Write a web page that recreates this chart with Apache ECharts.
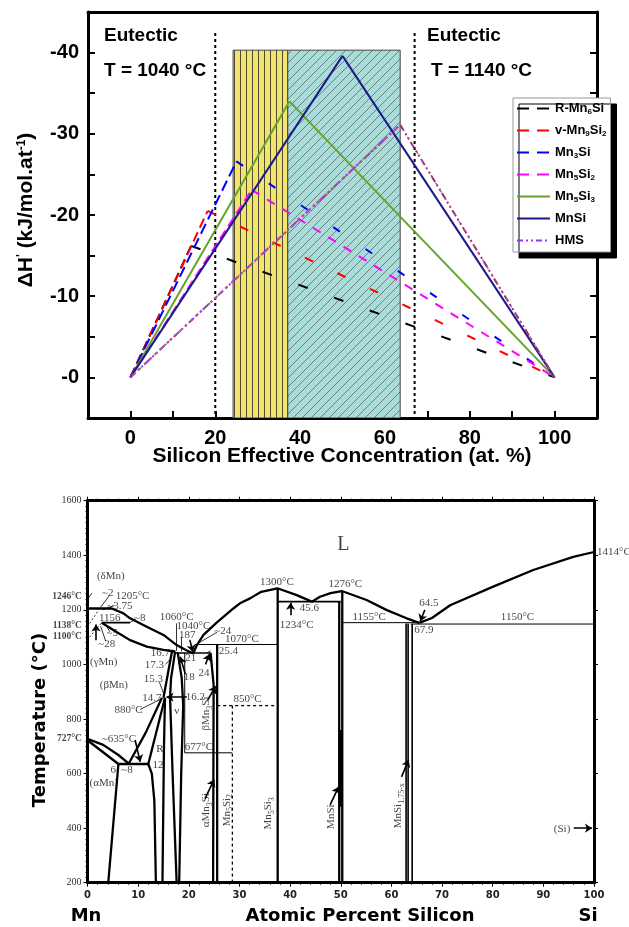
<!DOCTYPE html>
<html><head><meta charset="utf-8">
<script src="https://cdn.jsdelivr.net/npm/echarts@6/dist/echarts.min.js"></script>
<style>html,body{margin:0;padding:0;background:#fff}#c{width:629px;height:927px}</style>
</head><body><div id="c"></div>
<script>
// ================= TOP PANEL DATA (ΔH', kJ/mol.at) =================
const topXTicks = [0, 20, 40, 60, 80, 100];
const topYTicks = [-40, -30, -20, -10, 0];
const rMn6Si  = [[0, 0], [14.3, -16.2], [100, 0]];
const vMn9Si2 = [[0, 0], [18.2, -20.5], [100, 0]];
const mn3Si   = [[0, 0], [25.0, -26.6], [100, 0]];
const mn5Si2  = [[0, 0], [28.6, -23.1], [100, 0]];
const mn5Si3  = [[0, 0], [37.5, -34.0], [100, 0]];
const mnSi    = [[0, 0], [50.0, -39.6], [100, 0]];
const hms     = [[0, 0], [63.6, -31.1], [100, 0]];
const eutecticX = [20, 67];
const eutecticTop = -42.4;
const bandEdges = [24.2, 37.1, 63.6];
const bandTop = -40.3;

// ================= BOTTOM PANEL DATA (Mn-Si phase diagram) =================
const liqMn   = [[0,1205],[4.8,1205],[7.1,1187],[8.4,1169],[11.7,1138],[15,1108],[17.6,1071],[19.5,1052],[20.9,1041]];
const liqMid  = [[20.9,1041],[21.6,1071],[22.9,1108],[25.5,1153],[28.8,1205],[30.1,1224],[32.1,1242],[34.3,1266],[37.5,1279],[41.3,1254],[44.3,1230],[45.9,1248],[48,1261],[50.2,1269],[55.1,1236],[59.1,1199],[63,1169],[65.5,1152]];
const liqSi   = [[65.5,1152],[68,1170],[71.6,1217],[80.1,1285],[88,1346],[95.9,1394],[100,1412]];
const solMn   = [[2.8,1153],[5.1,1126],[8.4,1089],[11.7,1065],[15,1053],[17.3,1047]];
const aMnUpper = [[0,727],[3.1,705],[6.1,668],[8.1,637]];
const aMnLower = [[0,722],[6.1,635]];
const aMnSolvus = [[6.1,635],[4.1,200]];
const bMnR    = [[8.1,635],[11.5,750],[14.7,878]];
const rLeftUp = [[12,635],[15.3,878]];
const rLeftDown = [[12,635],[12.7,600],[13.2,500],[13.5,200]];
const rRight  = [[15.3,878],[15.1,700],[14.8,200]];
const bMnRight = [[15,878],[16.7,1050],[17.3,1047]];
const nuLeft  = [[17.3,1047],[16.5,950],[16.3,880],[16.8,600],[17.6,200]];
const nuRight = [[17.8,1045],[18.6,950],[18.9,850],[18.5,600],[18.1,200]];
const mn3SiLeft  = [[24.3,1042],[24.9,925],[24.8,200]];
const mn3SiRight = [[25.6,1073],[25.6,200]];
const mn5Si3Line = [[37.55,1279],[37.55,200]];
const mnSiLeft   = [[49.7,1230],[49.7,200]];
const mnSiRight  = [[50.3,1269],[50.3,200]];
const mnSiBar    = [[50,760],[50,478]];
const line635  = [[6.1,635],[12,635]];
const line1156 = [[2.8,1153],[8.4,1153]];
const line1040 = [[17.3,1042],[24.3,1042]];
const line1234 = [[37.5,1230],[50,1230]];
const hmsA = [[62.9,1150],[62.9,200]];
const hmsB = [[63.3,1150],[63.3,200]];
const hmsC = [[64.1,1148],[64.1,200]];
const line1070 = [[21.2,1073],[37.5,1073]];
const line1155 = [[50.3,1153],[65.5,1153]];
const line1150 = [[63.8,1148],[100,1148]];
const line677  = [[19.2,676],[28.6,676]];
const v192     = [[19.2,1042],[19.2,676]];
const line850  = [[25.6,849],[37.5,849]];
const v286     = [[28.6,849],[28.6,200]];
const deltaA   = [[0,1138],[2.4,1205]];
const deltaB   = [[0.4,1100],[2.8,1153]];
const arrows = [
  [[40.1,1180],[40.1,1226]], [[66.6,1200],[65.7,1158]], [[96,400],[99.6,400]],
  [[23.2,508],[25,578]], [[23.7,868],[25.3,920]], [[47.9,485],[49.6,552]],
  [[62,588],[63.4,650]], [[9.4,723],[10.4,643]], [[1.7,1089],[1.7,1146]],
  [[23.3,1000],[24.1,1038]], [[19.3,966],[18.3,1028]], [[20.2,1090],[20.8,1046]],
  [[19.6,880],[15.6,880]]
];
const leaders = [
  [[4.3,1252],[2.6,1210]], [[5.3,1216],[3,1200]], [[4.4,1120],[3.4,1150]], [[3.6,1085],[2.6,1140]],
  [[9.5,1165],[8.4,1154]], [[17.6,1150],[17.6,1050]], [[18.6,1100],[18.6,1048]],
  [[25.6,1118],[21.6,1075]], [[15.4,1000],[16.4,1020]], [[14.2,935],[15,895]],
  [[10.4,835],[14.4,872]], [[0.9,1262],[0.2,1244]], [[23.6,1042],[24.3,1050]]
];
const phaseLabels = [
  [50.5,1437,'L'], [37.4,1300,'1300°C'], [50.9,1294,'1276°C'], [67.4,1226,'64.5'],
  [55.6,1172,'1155°C'], [84.9,1172,'1150°C'], [43.8,1205,'45.6'], [41.3,1144,'1234°C'],
  [30.5,1092,'1070°C'], [26.7,1123,'~24'], [20.9,1141,'1040°C'], [19.7,1108,'187'],
  [17.6,1172,'1060°C'], [14.4,1040,'16.7'], [20.4,1022,'21'], [13.2,998,'17.3'],
  [20.1,955,'18'], [23.0,967,'24'], [13.0,945,'15.3'], [5.2,924,'(βMn)'],
  [12.7,876,'14.7'], [21.3,879,'16.2'], [8.1,833,'880°C'], [31.6,872,'850°C'],
  [17.6,830,'ν'], [14.3,689,'R'], [22.0,698,'677°C'], [6.2,725,'~635°C'],
  [13.9,631,'12'], [5.1,613,'6'], [7.8,613,'~8'], [3.2,564,'(αMn)'],
  [4.6,1324,'(δMn)'], [4.0,1261,'~2'], [8.9,1251,'1205°C'], [6.4,1214,'~3.75'],
  [4.4,1169,'1156'], [10.3,1170,'~8'], [4.9,1113,'~5'], [3.8,1074,'~28'],
  [3.2,1010,'(γMn)'], [93.7,397,'(Si)']
];
const phaseLabelsLeft = [[100.6,1412,'1414°C'], [64.5,1124,'67.9'], [25.9,1050,'25.4']];
const phaseLabelsRot = [
  [23.5,466,'αMn{s|3}Si'], [23.5,820,'βMn{s|3}Si'], [27.5,466,'Mn{s|5}Si{s|2}'],
  [35.7,454,'Mn{s|5}Si{s|3}'], [48.1,442,'MnSi'], [61.3,482,'MnSi{s|1.75-x}']
];
const axisTempLabels = [[-1.1,1248,'1246°C'], [-1.1,1144,'1138°C'], [-1.1,1101,'1100°C'], [-1.1,729,'727°C']];

// ================= PATTERNS =================
function makePattern(w, h, bg, draw) {
  const c = document.createElement('canvas'); c.width = w; c.height = h;
  const g = c.getContext('2d'); g.fillStyle = bg; g.fillRect(0, 0, w, h); draw(g, w, h); return c;
}
const yellowPat = makePattern(6, 10, '#f2e46c', (g, w, h) => {
  g.strokeStyle = '#3a3a2a'; g.lineWidth = 0.9; g.beginPath(); g.moveTo(0.5, 0); g.lineTo(0.5, h); g.stroke();
});
const cyanPat = makePattern(9, 9, '#a9dcd8', (g, w, h) => {
  g.strokeStyle = '#4d5a5a'; g.lineWidth = 0.7; g.beginPath();
  for (let k = -1; k <= 1; k++) { g.moveTo(k * w, h); g.lineTo(k * w + w, 0); }
  g.stroke();
});

// ================= BUILD OPTION =================
const topNames = ['R-Mn6Si', 'v-Mn9Si2', 'Mn3Si', 'Mn5Si2', 'Mn5Si3', 'MnSi', 'HMS'];
const topData = [rMn6Si, vMn9Si2, mn3Si, mn5Si2, mn5Si3, mnSi, hms];
const topColors = ['#000000', '#ff0000', '#0000ff', '#ff00ff', '#66a32b', '#1b1b8a', '#9933ff'];
const descDash = [[10, 28], [9, 27], [8, 31], [9, 9], 'solid', 'solid', [7, 3, 2, 3, 2, 3]];
const riseDash = [[10, 5], [10, 5], [11, 5], [10, 5], 'solid', 'solid', [7, 3, 2, 3, 2, 3]];
const legendRich = {
  'R-Mn6Si': 'R-Mn{s|6}Si', 'v-Mn9Si2': 'v-Mn{s|9}Si{s|2}', 'Mn3Si': 'Mn{s|3}Si',
  'Mn5Si2': 'Mn{s|5}Si{s|2}', 'Mn5Si3': 'Mn{s|5}Si{s|3}', 'MnSi': 'MnSi', 'HMS': 'HMS'
};

const series = [];
series.push({
  type: 'custom', xAxisIndex: 0, yAxisIndex: 0, silent: true, z: 1, clip: true,
  data: [[bandEdges[0], bandEdges[1], bandTop, 0], [bandEdges[1], bandEdges[2], bandTop, 1]],
  renderItem(params, api) {
    const p0 = api.coord([api.value(0), api.value(2)]);
    const p1 = api.coord([api.value(1), 5]);
    const pat = api.value(3) === 0 ? yellowPat : cyanPat;
    return { type: 'rect', shape: { x: p0[0], y: p0[1], width: p1[0] - p0[0], height: p1[1] - p0[1] },
      style: { fill: { image: pat, repeat: 'repeat' }, stroke: '#444', lineWidth: 1 } };
  }
});
eutecticX.forEach(x => series.push({
  type: 'line', xAxisIndex: 0, yAxisIndex: 0, silent: true, symbol: 'none', z: 3,
  data: [[x, eutecticTop], [x, 5]], lineStyle: { color: '#000', width: 2, type: [3, 3] }
}));
topData.forEach((d, i) => {
  series.push({ name: topNames[i], type: 'line', xAxisIndex: 0, yAxisIndex: 0, symbol: 'none', z: 5 + i,
    data: d.slice(0, 2), lineStyle: { color: topColors[i], width: 2, type: riseDash[i] }, itemStyle: { color: topColors[i] } });
  series.push({ name: topNames[i], type: 'line', xAxisIndex: 0, yAxisIndex: 0, symbol: 'none', z: 5 + i,
    data: d.slice(1, 3), lineStyle: { color: i === 6 ? '#993366' : topColors[i], width: 2, type: descDash[i] }, itemStyle: { color: topColors[i] } });
});
// HMS overlays (several HMS variants drawn on top of each other)
series.push({ name: 'HMS', type: 'line', xAxisIndex: 0, yAxisIndex: 0, symbol: 'none', z: 13,
  data: hms.slice(0, 2), lineStyle: { color: '#4a9a2a', width: 2, type: [2, 5], dashOffset: 2 } });
series.push({ name: 'HMS', type: 'line', xAxisIndex: 0, yAxisIndex: 0, symbol: 'none', z: 13,
  data: hms.slice(0, 2), lineStyle: { color: '#ff3399', width: 2, type: [2, 6], dashOffset: 5 } });
series.push({ name: 'HMS', type: 'line', xAxisIndex: 0, yAxisIndex: 0, symbol: 'none', z: 13,
  data: hms.slice(1, 3), lineStyle: { color: '#cc44cc', width: 1.5, type: [2, 7], dashOffset: 4 } });

// bottom panel lines
function pl(d, w, type, extra) {
  return Object.assign({ type: 'line', xAxisIndex: 2, yAxisIndex: 2, silent: true, symbol: 'none', z: 5,
    data: d, lineStyle: { color: '#000', width: w, type: type || 'solid', cap: 'butt', join: 'round' } }, extra || {});
}
const thickSet = [liqMn, liqMid, liqSi, solMn, aMnUpper, aMnLower, aMnSolvus, bMnR, rLeftUp, rLeftDown, rRight,
  bMnRight, nuLeft, nuRight, mn3SiLeft, mn3SiRight, mn5Si3Line, mnSiLeft, mnSiRight, line635];
const medSet = [line1156, line1040, line1234, hmsA, hmsB, hmsC];
const thinSet = [line1070, line1155, line1150, line677, v192];
const dashSet = [line850, v286];
const thinDashSet = [deltaA, deltaB];
thickSet.forEach(d => series.push(pl(d, 2.3)));
medSet.forEach(d => series.push(pl(d, 1.6)));
thinSet.forEach(d => series.push(pl(d, 1)));
dashSet.forEach(d => series.push(pl(d, 1.3, [3, 3])));
thinDashSet.forEach(d => series.push(pl(d, 0.8, [2, 2])));
series.push(pl(mnSiBar, 4));
series.push({ type: 'lines', coordinateSystem: 'cartesian2d', xAxisIndex: 2, yAxisIndex: 2, silent: true, z: 6,
  symbol: ['none', 'arrow'], symbolSize: 7,
  data: arrows.map(c => ({ coords: c })), lineStyle: { color: '#000', width: 1.6, opacity: 1, curveness: 0 } });
series.push({ type: 'lines', coordinateSystem: 'cartesian2d', xAxisIndex: 2, yAxisIndex: 2, silent: true, z: 6,
  data: leaders.map(c => ({ coords: c })), lineStyle: { color: '#000', width: 0.8, opacity: 1, curveness: 0 } });

const serifFont = "'Liberation Serif', 'DejaVu Serif', serif";
const subRich = { s: { fontSize: 8, fontFamily: serifFont, color: '#111', verticalAlign: 'bottom', lineHeight: 9 } };
function textSeries(list, labelOpt) {
  return { type: 'scatter', xAxisIndex: 2, yAxisIndex: 2, silent: true, clip: false, z: 10,
    symbolSize: 1, itemStyle: { color: 'rgba(0,0,0,0)' },
    data: list.map(r => ({ value: [r[0], r[1]], text: r[2] })),
    label: Object.assign({ show: true, position: 'inside', formatter: p => p.data.text,
      fontFamily: serifFont, fontSize: 11, color: '#111', lineHeight: 15, rich: subRich }, labelOpt || {}) };
}
series.push(textSeries(phaseLabels.filter(r => r[2] !== 'L')));
series.push(textSeries(phaseLabels.filter(r => r[2] === 'L'), { fontSize: 20 }));
series.push(textSeries(phaseLabelsLeft, { align: 'left' }));
series.push(textSeries(phaseLabelsRot, { rotate: 90, fontSize: 11 }));
series.push(textSeries(axisTempLabels, { align: 'right', fontWeight: 'bold', fontSize: 9.5 }));

const sansB = "'Liberation Sans', Arial, sans-serif";
const option = {
  animation: false,
  backgroundColor: '#fff',
  grid: [
    { left: 88, top: 12, width: 509, height: 406 },
    { left: 87.5, top: 500.7, width: 506.5, height: 382 }
  ],
  xAxis: [
    { gridIndex: 0, type: 'value', min: -10, max: 110,
      axisLine: { onZero: false, lineStyle: { color: '#000', width: 3 } },
      axisTick: { inside: true, length: 7, lineStyle: { width: 2, color: '#000' }, customValues: [0,10,20,30,40,50,60,70,80,90,100] },
      axisLabel: { customValues: topXTicks, fontFamily: sansB, fontWeight: 'bold', fontSize: 20, color: '#000', margin: 10 },
      splitLine: { show: false } },
    { gridIndex: 0, type: 'value', min: -10, max: 110, position: 'top',
      axisLine: { onZero: false, lineStyle: { color: '#000', width: 3 } }, axisTick: { show: false }, axisLabel: { show: false }, splitLine: { show: false } },
    { gridIndex: 1, type: 'value', min: 0, max: 100, interval: 10,
      axisLine: { onZero: false, lineStyle: { color: '#000', width: 3 } },
      axisTick: { length: 4, lineStyle: { color: '#000', width: 1 } },
      minorTick: { show: true, splitNumber: 5, length: 2, lineStyle: { color: '#000' } },
      axisLabel: { fontFamily: "'DejaVu Sans', sans-serif", fontWeight: 'bold', fontSize: 10, color: '#222', margin: 8 },
      splitLine: { show: false } },
    { gridIndex: 1, type: 'value', min: 0, max: 100, interval: 10, position: 'top',
      axisLine: { onZero: false, lineStyle: { color: '#000', width: 3 } },
      axisTick: { length: 4, lineStyle: { color: '#000' } },
      minorTick: { show: true, splitNumber: 5, length: 2, lineStyle: { color: '#000' } },
      axisLabel: { show: false }, splitLine: { show: false } }
  ],
  yAxis: [
    { gridIndex: 0, type: 'value', min: -45, max: 5, inverse: true,
      axisLine: { onZero: false, lineStyle: { color: '#000', width: 3 } },
      axisTick: { inside: true, length: 7, lineStyle: { width: 2, color: '#000' }, customValues: [-40,-35,-30,-25,-20,-15,-10,-5,0] },
      axisLabel: { customValues: topYTicks, formatter: v => (v === 0 ? '-0' : String(v)),
        fontFamily: sansB, fontWeight: 'bold', fontSize: 20, color: '#000', margin: 9 },
      splitLine: { show: false } },
    { gridIndex: 0, type: 'value', min: -45, max: 5, inverse: true, position: 'right',
      axisLine: { onZero: false, lineStyle: { color: '#000', width: 3 } },
      axisTick: { inside: true, length: 7, lineStyle: { width: 2, color: '#000' }, customValues: [-40,-35,-30,-25,-20,-15,-10,-5,0] },
      axisLabel: { show: false }, splitLine: { show: false } },
    { gridIndex: 1, type: 'value', min: 200, max: 1600, interval: 200,
      axisLine: { onZero: false, lineStyle: { color: '#000', width: 3 } },
      axisTick: { length: 4, lineStyle: { color: '#000' } },
      minorTick: { show: true, splitNumber: 10, length: 2, lineStyle: { color: '#000' } },
      axisLabel: { formatter: v => String(v), fontFamily: serifFont, fontSize: 10, color: '#333', margin: 6 },
      splitLine: { show: false } },
    { gridIndex: 1, type: 'value', min: 200, max: 1600, interval: 200, position: 'right',
      axisLine: { onZero: false, lineStyle: { color: '#000', width: 3 } },
      axisTick: { length: 4, lineStyle: { color: '#000' } },
      minorTick: { show: true, splitNumber: 10, length: 2, lineStyle: { color: '#000' } },
      axisLabel: { show: false }, splitLine: { show: false } }
  ],
  legend: {
    orient: 'vertical', left: 513, top: 98, itemWidth: 33, itemHeight: 14, itemGap: 7,
    padding: [3, 4, 4, 3], backgroundColor: '#fff', borderColor: '#999', borderWidth: 1,
    shadowColor: '#000', shadowBlur: 0, shadowOffsetX: 6, shadowOffsetY: 6,
    selectedMode: false,
    itemStyle: { opacity: 0 },
    data: topNames.map((n, i) => ({ name: n, itemStyle: { opacity: 0 }, lineStyle: { color: topColors[i], width: 2,
      type: i === 4 || i === 5 ? 'solid' : (i === 6 ? [6, 3, 2, 3, 2, 3] : [12, 8]) } })),
    formatter: n => legendRich[n],
    textStyle: { fontFamily: sansB, fontWeight: 'bold', fontSize: 13, color: '#000', lineHeight: 15,
      rich: { s: { fontFamily: sansB, fontWeight: 'bold', fontSize: 8, color: '#000', verticalAlign: 'bottom', lineHeight: 8 } } }
  },
  graphic: [
    { type: 'text', left: 104, top: 26, style: { text: 'Eutectic', font: "bold 19px 'Liberation Sans', Arial, sans-serif", fill: '#000' } },
    { type: 'text', left: 104, top: 61, style: { text: 'T = 1040 °C', font: "bold 19px 'Liberation Sans', Arial, sans-serif", fill: '#000' } },
    { type: 'text', left: 427, top: 26, style: { text: 'Eutectic', font: "bold 19px 'Liberation Sans', Arial, sans-serif", fill: '#000' } },
    { type: 'text', left: 431, top: 61, style: { text: 'T = 1140 °C', font: "bold 19px 'Liberation Sans', Arial, sans-serif", fill: '#000' } },
    { type: 'text', x: 342, y: 456, style: { text: 'Silicon Effective Concentration (at. %)', font: "bold 21px 'Liberation Sans', Arial, sans-serif",
      fill: '#000', align: 'center', verticalAlign: 'middle' } },
    { type: 'text', x: 26, y: 210, rotation: Math.PI / 2, style: { text: 'ΔH{p|\'} (kJ/mol.at{p|-1})',
      font: "bold 21px 'Liberation Sans', Arial, sans-serif", fill: '#000', align: 'center', verticalAlign: 'middle',
      rich: { p: { font: "bold 12px 'Liberation Sans', Arial, sans-serif", fill: '#000', verticalAlign: 'top', lineHeight: 12 } } } },
    { type: 'text', x: 40, y: 720, rotation: Math.PI / 2, style: { text: 'Temperature (°C)',
      font: "bold 18px 'DejaVu Sans', sans-serif", fill: '#000', align: 'center', verticalAlign: 'middle' } },
    { type: 'text', x: 86, y: 916, style: { text: 'Mn', font: "bold 18px 'DejaVu Sans', sans-serif", fill: '#000', align: 'center', verticalAlign: 'middle' } },
    { type: 'text', x: 360, y: 916, style: { text: 'Atomic Percent Silicon', font: "bold 18px 'DejaVu Sans', sans-serif", fill: '#000', align: 'center', verticalAlign: 'middle' } },
    { type: 'text', x: 588, y: 916, style: { text: 'Si', font: "bold 18px 'DejaVu Sans', sans-serif", fill: '#000', align: 'center', verticalAlign: 'middle' } }
  ],
  series: series
};
const chart = echarts.init(document.getElementById('c'));
chart.setOption(option);
</script>
</body></html>
